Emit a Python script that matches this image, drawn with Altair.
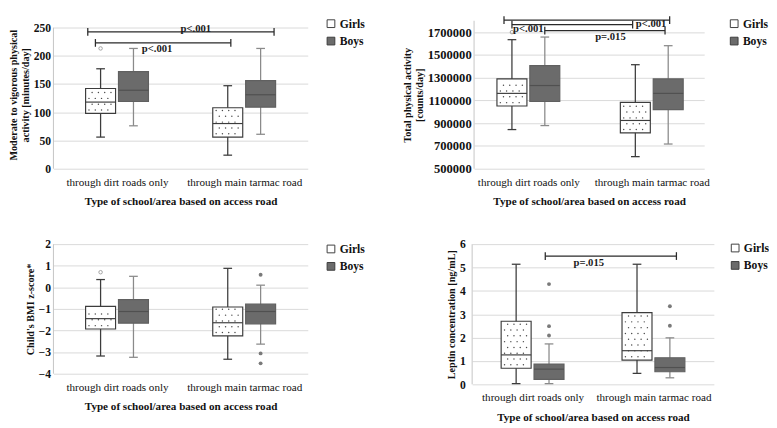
import altair as alt
import pandas as pd

FONT = "Liberation Serif"
ROADS = ["through dirt roads only", "through main tarmac road"]
SEXES = ["Girls", "Boys"]
X_TITLE = "Type of school/area based on access road"

# box order in every panel: Girls/dirt, Boys/dirt, Girls/tarmac, Boys/tarmac
# Panel A: moderate to vigorous physical activity
MVPA_LOW = [56, 76, 24, 61]
MVPA_Q1 = [98, 119, 56, 109]
MVPA_MED = [118, 139, 80, 131]
MVPA_Q3 = [142, 172, 108, 156]
MVPA_HIGH = [177, 213, 147, 213]
MVPA_OUT_BOX = [0]
MVPA_OUT_VAL = [213]
MVPA_TICKS = [0, 50, 100, 150, 200, 250]
MVPA_TITLE = ["Moderate to vigorous physical", "activity  [minutes/day]"]
MVPA_BR_FROM = [0.54, 0.66]
MVPA_BR_TO = [3.47, 2.79]
MVPA_BR_Y = [242.5, 222.8]
MVPA_LAB = ["p<.001", "p<.001"]
MVPA_LAB_X = [2.24, 1.63]
MVPA_LAB_Y = [247, 211.5]

# Panel B: total physical activity
TPA_LOW = [844000, 879000, 606000, 717000]
TPA_Q1 = [1051000, 1091000, 815000, 1019000]
TPA_MED = [1162000, 1231000, 924000, 1162000]
TPA_Q3 = [1289000, 1406000, 1083000, 1289000]
TPA_HIGH = [1634000, 1657000, 1414000, 1581000]
TPA_OUT_BOX = [0]
TPA_OUT_VAL = [1700000]
TPA_TICKS = [500000, 700000, 900000, 1100000, 1300000, 1500000, 1700000]
TPA_TITLE = ["Total physical  activity", "[counts/day]"]
TPA_BR_FROM = [0.605, 0.734, 1.266]
TPA_BR_TO = [3.29, 2.69, 3.215]
TPA_BR_Y = [1806000, 1766000, 1713000]
TPA_LAB = ["p<.001", "p<.001", "p=.015"]
TPA_LAB_X = [2.99, 1.0, 2.33]
TPA_LAB_Y = [1768000, 1724000, 1657000]

# Panel C: BMI z-score
BMI_LOW = [-3.18, -3.24, -3.33, -2.63]
BMI_Q1 = [-1.93, -1.66, -2.25, -1.69]
BMI_MED = [-1.45, -1.12, -1.64, -1.12]
BMI_Q3 = [-0.88, -0.57, -0.91, -0.78]
BMI_HIGH = [0.36, 0.51, 0.88, 0.10]
BMI_OUT_BOX = [0, 3, 3, 3]
BMI_OUT_VAL = [0.70, 0.58, -3.06, -3.52]
BMI_TICKS = [-4, -3, -2, -1, 0, 1, 2]
BMI_TITLE = ["Child's  BMI z-score*"]

# Panel D: leptin
LEP_LOW = [0.03, 0.03, 0.47, 0.28]
LEP_Q1 = [0.69, 0.21, 1.04, 0.54]
LEP_MED = [1.26, 0.65, 1.44, 0.72]
LEP_Q3 = [2.70, 0.87, 3.07, 1.14]
LEP_HIGH = [5.14, 1.73, 5.14, 1.99]
LEP_OUT_BOX = [1, 1, 1, 3, 3]
LEP_OUT_VAL = [4.29, 2.49, 2.09, 3.34, 2.51]
LEP_TICKS = [0, 1, 2, 3, 4, 5, 6]
LEP_TITLE = ["Leptin concentration  [ng/mL]"]
LEP_BR_FROM = [1.21]
LEP_BR_TO = [3.38]
LEP_BR_Y = [5.49]
LEP_LAB = ["p=.015"]
LEP_LAB_X = [1.93]
LEP_LAB_Y = [5.18]

# styling / layout
GIRL_LINE = "#3c3c3c"
BOY_FILL = "#6b6b6b"
BOY_EDGE = "#606060"
BOY_WHISK = "#8a8a8a"
OUT_COL = "#7a7a7a"
GRID = "#d9d9d9"
AXIS_COL = "#c4c4c4"
TXT = "#111111"
OFFSET_PX = 17
BOX_HALF_PX = 15.5
CAP_HALF_PX = 4.5
BR_CAP_PX = 4
DOT_DX = 6.5
DOT_DY = 6


def make_panel(low, q1, med, q3, high, out_box, out_val, ydom, yticks, yfmt,
               ytitle, br_from, br_to, br_y, lab, lab_x, lab_y, width, height,
               xdom, axis_top, leg_x, leg_y, ylab_size, ylab_pad):
    ppu = width / (xdom[1] - xdom[0])
    ppy = height / (ydom[1] - ydom[0])
    centers = [1 + 2 * (i // 2) + (OFFSET_PX if i % 2 else -OFFSET_PX) / ppu
               for i in range(4)]
    sexes = [SEXES[i % 2] for i in range(4)]
    box = pd.DataFrame({
        "sex": sexes, "xc": centers,
        "xl": [c - BOX_HALF_PX / ppu for c in centers],
        "xr": [c + BOX_HALF_PX / ppu for c in centers],
        "low": low, "q1": q1, "med": med, "q3": q3, "high": high,
    })
    caps = pd.DataFrame({
        "sex": sexes * 2,
        "x1": [c - CAP_HALF_PX / ppu for c in centers] * 2,
        "x2": [c + CAP_HALF_PX / ppu for c in centers] * 2,
        "y": list(low) + list(high),
    })
    # dotted texture for the girls' boxes
    dots = []
    for i in (0, 2):
        hpx = (q3[i] - q1[i]) * ppy
        ypx, row = 3.5, 0
        while ypx < hpx - 2:
            xpx = -BOX_HALF_PX + 3.5 + (DOT_DX / 2 if row % 2 else 0)
            while xpx < BOX_HALF_PX - 2:
                dots.append({"x": centers[i] + xpx / ppu, "y": q1[i] + ypx / ppy})
                xpx += DOT_DX
            ypx += DOT_DY
            row += 1
    dots = pd.DataFrame(dots)

    xscale = alt.Scale(domain=xdom, nice=False, zero=False)
    yscale = alt.Scale(domain=ydom, nice=False, zero=False)
    xaxis = alt.Axis(
        values=[1, 3],
        labelExpr=f"datum.value == 1 ? '{ROADS[0]}' : '{ROADS[1]}'",
        domain=False, ticks=False, tickSize=0, grid=False, labelPadding=8,
        titlePadding=9, labelFont=FONT, labelFontSize=11.5,
        labelFontWeight="normal", titleFont=FONT, titleFontSize=11.5,
        titleFontWeight="bold", labelColor=TXT, titleColor=TXT,
        labelFlush=False, labelOverlap=False)
    yaxis = alt.Axis(
        values=yticks, format=yfmt, domain=False, ticks=False, tickSize=0,
        grid=True, gridColor=GRID, gridWidth=1, labelPadding=ylab_pad,
        titlePadding=3, labelFont=FONT, labelFontSize=ylab_size,
        labelFontWeight="bold", labelColor=TXT, titleFont=FONT,
        titleFontSize=10.5, titleFontWeight="bold", titleColor=TXT,
        titleLineHeight=12.5)

    def X(f):
        return alt.X(f, type="quantitative", scale=xscale, axis=xaxis, title=X_TITLE)

    def Y(f):
        return alt.Y(f, type="quantitative", scale=yscale, axis=yaxis, title=ytitle)

    line_col = alt.condition(alt.datum.sex == "Girls", alt.value(GIRL_LINE), alt.value(BOY_WHISK))
    med_col = alt.condition(alt.datum.sex == "Girls", alt.value(GIRL_LINE), alt.value("#505050"))
    edge_col = alt.condition(alt.datum.sex == "Girls", alt.value(GIRL_LINE), alt.value(BOY_EDGE))

    layers = []
    axis_df = pd.DataFrame({"x": [xdom[0]], "y": [ydom[0]], "y2": [axis_top]})
    layers.append(alt.Chart(axis_df).mark_rule(color=AXIS_COL, strokeWidth=1)
                  .encode(x=X("x"), y=Y("y"), y2="y2"))
    layers.append(alt.Chart(box).mark_rule(strokeWidth=1.3)
                  .encode(x=X("xc"), y=Y("low"), y2="high", color=line_col))
    layers.append(alt.Chart(caps).mark_rule(strokeWidth=1.3)
                  .encode(x=X("x1"), x2="x2", y=Y("y"), color=line_col))
    layers.append(alt.Chart(box).mark_bar(strokeWidth=1.2).encode(
        x=X("xl"), x2="xr", y=Y("q1"), y2="q3",
        fill=alt.Fill("sex:N", scale=alt.Scale(domain=SEXES, range=["#ffffff", BOY_FILL]),
                      legend=alt.Legend(orient="none", legendX=width + leg_x,
                                        legendY=leg_y, title=None, symbolType="square",
                                        symbolSize=64, symbolStrokeColor=GIRL_LINE,
                                        symbolStrokeWidth=1, labelFont=FONT,
                                        labelFontSize=12, labelFontWeight="bold",
                                        labelColor=TXT, rowPadding=6, labelOffset=3,
                                        padding=0)),
        stroke=edge_col))
    layers.append(alt.Chart(dots).mark_circle(size=2.2, color="#4a4a4a", opacity=1)
                  .encode(x=X("x"), y=Y("y")))
    layers.append(alt.Chart(box).mark_rule(strokeWidth=1.2)
                  .encode(x=X("xl"), x2="xr", y=Y("med"), color=med_col))
    outs = pd.DataFrame({"x": [centers[b] for b in out_box], "y": out_val,
                         "sex": [sexes[b] for b in out_box]})
    g_out = outs[outs.sex == "Girls"]
    b_out = outs[outs.sex == "Boys"]
    if len(g_out):
        layers.append(alt.Chart(g_out).mark_point(shape="circle", filled=False, size=13,
                                                  strokeWidth=1, color=OUT_COL)
                      .encode(x=X("x"), y=Y("y")))
    if len(b_out):
        layers.append(alt.Chart(b_out).mark_circle(size=16, color=OUT_COL, opacity=1)
                      .encode(x=X("x"), y=Y("y")))
    if br_from:
        br = pd.DataFrame({"x1": br_from, "x2": br_to, "y": br_y})
        layers.append(alt.Chart(br).mark_rule(color="#2a2a2a", strokeWidth=1.3)
                      .encode(x=X("x1"), x2="x2", y=Y("y")))
        brc = pd.DataFrame({"x": list(br_from) + list(br_to),
                            "y1": [v - BR_CAP_PX / ppy for v in br_y] * 2,
                            "y2": [v + BR_CAP_PX / ppy for v in br_y] * 2})
        layers.append(alt.Chart(brc).mark_rule(color="#2a2a2a", strokeWidth=1.3)
                      .encode(x=X("x"), y=Y("y1"), y2="y2"))
        labs = pd.DataFrame({"x": lab_x, "y": lab_y, "t": lab})
        layers.append(alt.Chart(labs).mark_text(font=FONT, fontSize=11, fontWeight="bold",
                                                color="#1a1a1a", baseline="middle")
                      .encode(x=X("x"), y=Y("y"), text="t:N"))
    return alt.layer(*layers).properties(width=width, height=height)


pA = make_panel(MVPA_LOW, MVPA_Q1, MVPA_MED, MVPA_Q3, MVPA_HIGH, MVPA_OUT_BOX,
                MVPA_OUT_VAL, [0, 262], MVPA_TICKS, "d", MVPA_TITLE,
                MVPA_BR_FROM, MVPA_BR_TO, MVPA_BR_Y, MVPA_LAB, MVPA_LAB_X, MVPA_LAB_Y,
                263, 153, [0, 4], 250, 18, -3, 12, 3)
pB = make_panel(TPA_LOW, TPA_Q1, TPA_MED, TPA_Q3, TPA_HIGH, TPA_OUT_BOX,
                TPA_OUT_VAL, [500000, 1800000], TPA_TICKS, "d", TPA_TITLE,
                TPA_BR_FROM, TPA_BR_TO, TPA_BR_Y, TPA_LAB, TPA_LAB_X, TPA_LAB_Y,
                238, 153, [0.12, 3.85], 1800000, 25, -3, 13, 3)
pC = make_panel(BMI_LOW, BMI_Q1, BMI_MED, BMI_Q3, BMI_HIGH, BMI_OUT_BOX,
                BMI_OUT_VAL, [-4, 2], BMI_TICKS, "d", BMI_TITLE,
                [], [], [], [], [], [],
                263, 134, [0, 4], 2, 18, -1, 12, 3)
pD = make_panel(LEP_LOW, LEP_Q1, LEP_MED, LEP_Q3, LEP_HIGH, LEP_OUT_BOX,
                LEP_OUT_VAL, [0, 6], LEP_TICKS, "d", LEP_TITLE,
                LEP_BR_FROM, LEP_BR_TO, LEP_BR_Y, LEP_LAB, LEP_LAB_X, LEP_LAB_Y,
                250, 145, [0, 4], 6, 16, -2, 12, 7)

row1 = (alt.hconcat(pA, pB, spacing=39)
        .resolve_scale(fill="independent").resolve_legend(fill="independent"))
row2 = (alt.hconcat(pC, pD, spacing=84)
        .resolve_scale(fill="independent").resolve_legend(fill="independent"))
chart = (alt.vconcat(row1, row2, spacing=32)
         .resolve_scale(fill="independent").resolve_legend(fill="independent")
         .properties(padding=0, background="white")
         .configure_view(stroke=None))

chart.save("out.html", embed_options={"renderer": "svg", "actions": False})
